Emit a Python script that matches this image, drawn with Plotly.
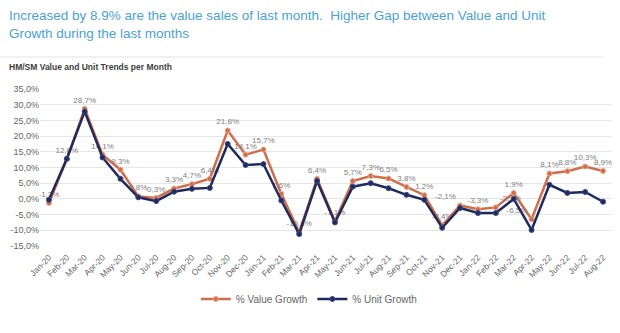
import plotly.graph_objects as go

months = ["Jan-20", "Feb-20", "Mar-20", "Apr-20", "May-20", "Jun-20", "Jul-20", "Aug-20",
          "Sep-20", "Oct-20", "Nov-20", "Dec-20", "Jan-21", "Feb-21", "Mar-21", "Apr-21",
          "May-21", "Jun-21", "Jul-21", "Aug-21", "Sep-21", "Oct-21", "Nov-21", "Dec-21",
          "Jan-22", "Feb-22", "Mar-22", "Apr-22", "May-22", "Jun-22", "Jul-22", "Aug-22"]

value_growth = [-1.3, 12.6, 28.7, 14.1, 9.3, 0.8, 0.3, 3.3, 4.7, 6.4, 21.8, 14.1, 15.7, 1.6,
                -10.6, 6.4, -7.1, 5.7, 7.3, 6.5, 3.8, 1.2, -8.4, -2.1, -3.3, -2.7, 1.9, -6.5,
                8.1, 8.8, 10.3, 8.9]

unit_growth = [-0.3, 12.8, 27.8, 13.2, 6.4, 0.5, -0.7, 2.3, 3.2, 3.5, 17.5, 10.8, 11.1, -0.5,
               -11.2, 5.7, -7.5, 3.9, 5.0, 3.4, 1.3, -0.3, -9.2, -2.9, -4.5, -4.5, 0.0, -9.9,
               4.5, 1.9, 2.2, -0.9]

y_ticks = [-15, -10, -5, 0, 5, 10, 15, 20, 25, 30, 35]

ORANGE = "#CF6E4A"
NAVY = "#1F2A5C"
GREY = "#666666"
FONT = "Liberation Sans, Arial, sans-serif"


def pct(v):
    return f"{v:.1f}%".replace(".", ",")


# value labels sit above each point; a few crowded ones are nudged sideways
label_pos = ["top center"] * len(months)
label_pos[months.index("Apr-22")] = "top left"
label_pos[months.index("Dec-21")] = "top left"
label_pos[months.index("Feb-22")] = "top right"

fig = go.Figure()
fig.add_trace(go.Scatter(
    x=months, y=value_growth, name="% Value Growth", mode="lines+markers+text",
    line=dict(color=ORANGE, width=2.5),
    marker=dict(size=5, color=ORANGE, line=dict(color="#E8A58A", width=1)),
    text=[pct(v) for v in value_growth], textposition=label_pos,
    textfont=dict(size=8, color="#808080", family=FONT),
))
fig.add_trace(go.Scatter(
    x=months, y=unit_growth, name="% Unit Growth", mode="lines+markers",
    line=dict(color=NAVY, width=2.5),
    marker=dict(size=5, color=NAVY, line=dict(color="#3B4A86", width=1)),
))

fig.update_layout(
    width=620, height=333,
    margin=dict(l=40, r=8, t=89, b=87, autoexpand=False),
    paper_bgcolor="white", plot_bgcolor="white",
    font=dict(family=FONT, color=GREY, size=9),
    showlegend=True,
    legend=dict(orientation="h", x=0.47, xanchor="center", y=-0.245, yanchor="top",
                font=dict(size=10, color=GREY), itemwidth=30, tracegroupgap=0),
    xaxis=dict(type="category", range=[-0.5, len(months) - 0.5], tickangle=-45,
               automargin=False, ticklabelstandoff=4,
               showgrid=False, showline=False, ticks="", tickfont=dict(size=8.5, color=GREY)),
    yaxis=dict(range=[-15, 35], tickvals=y_ticks, ticktext=[pct(v) for v in y_ticks],
               automargin=False,
               showgrid=True, gridcolor="#E6E6E6", gridwidth=1, zeroline=False,
               showline=False, ticks="", tickfont=dict(size=9, color=GREY)),
    annotations=[
        dict(text="Increased by 8.9% are the value sales of last month.  Higher Gap between Value and Unit<br>Growth during the last months",
             xref="paper", yref="paper", x=-0.058, y=1.0, xanchor="left", yanchor="bottom",
             yshift=46, align="left", showarrow=False,
             font=dict(size=13.5, color="#4BA2D2", family=FONT)),
        dict(text="<b>HM/SM Value and Unit Trends per Month</b>",
             xref="paper", yref="paper", x=-0.058, y=1.0, xanchor="left", yanchor="bottom",
             yshift=15, showarrow=False,
             font=dict(size=8.5, color="#404040", family=FONT)),
    ],
)
# separator rule under the heading
fig.add_shape(type="line", xref="paper", yref="paper", x0=-0.07, x1=0.985, y0=1.204, y1=1.204,
              line=dict(color="#E3E3E3", width=1))

fig.write_html("out.html")
